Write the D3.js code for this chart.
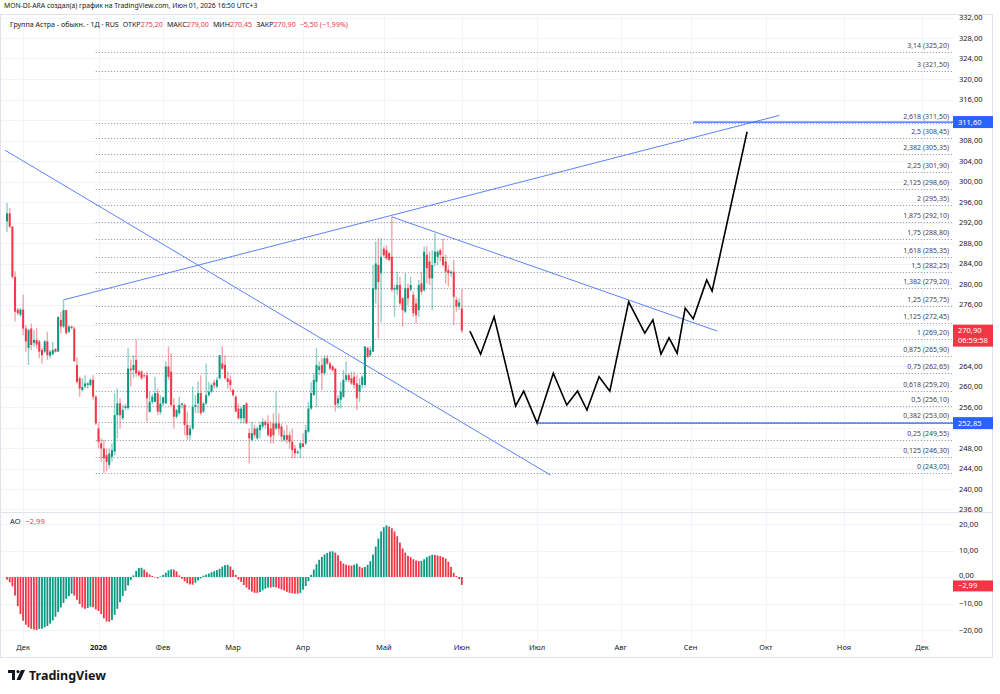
<!DOCTYPE html>
<meta charset="utf-8">
<script src="https://cdn.jsdelivr.net/npm/d3@7"></script>
<style>
  body { margin: 0; background: #fff; }
  text { font-family: "Noto Sans", sans-serif; }
</style>
<div id="chart"></div>
<script>
  // daily candles, Nov 2025 .. Jun 01 2026 (bar index 0..169)
  var opens = [292.2,293.8,291.2,281.4,275.0,274.0,275.0,271.3,267.5,271.3,268.5,269.1,268.8,267.1,266.8,268.8,266.0,266.3,267.3,266.8,
    273.0,271.7,274.9,270.7,271.7,271.3,264.2,261.6,259.3,260.0,260.3,260.3,261.3,258.0,251.8,248.9,247.9,246.6,244.7,246.3,
    247.3,254.4,256.7,253.8,255.8,255.8,263.5,263.2,265.2,262.9,262.9,262.2,262.2,255.0,257.0,257.0,258.7,255.0,256.7,256.7,
    263.9,262.9,256.4,254.1,254.8,256.4,256.4,252.5,250.5,251.8,256.0,256.7,258.7,255.1,256.7,258.3,259.0,260.8,260.0,261.6,
    264.5,264.2,261.6,261.3,259.3,258.0,255.7,253.8,253.8,256.7,250.9,249.6,251.8,249.9,251.5,252.2,253.1,252.8,251.8,252.8,
    251.8,252.8,252.2,249.6,250.5,250.5,249.2,247.9,247.0,247.9,248.9,248.9,251.2,255.7,258.3,260.9,263.2,264.2,262.6,265.5,
    264.5,263.9,263.5,256.7,257.4,258.0,261.3,262.2,261.6,261.9,260.6,259.0,260.3,260.3,267.5,266.1,266.8,278.9,283.7,282.1,
    286.9,286.6,286.0,285.3,278.9,278.9,279.8,277.2,274.6,279.2,278.9,277.9,276.2,274.9,280.1,278.8,285.7,284.4,281.1,284.1,
    285.3,286.6,285.3,284.4,282.7,282.1,282.4,276.9,275.6,275.2];
  var highs = [295.8,294.8,291.3,282.5,275.3,275.3,277.9,272.0,271.3,272.3,271.0,271.4,269.1,267.5,269.1,270.7,267.1,268.7,267.5,273.6,
    274.6,276.9,274.9,272.0,271.9,271.7,265.7,261.9,261.6,262.2,260.9,261.6,262.2,258.3,252.8,249.9,249.6,247.9,247.9,248.9,
    258.7,259.6,257.7,256.4,256.7,267.5,265.2,266.1,269.1,263.2,263.2,262.4,262.9,259.0,258.5,261.9,259.6,258.3,258.0,264.9,
    267.8,266.5,257.7,255.7,258.0,256.7,256.7,255.1,252.5,260.0,258.3,261.0,262.2,257.0,264.5,260.9,260.6,261.3,261.9,266.1,
    267.8,266.1,262.9,262.2,259.6,258.3,256.7,256.0,256.4,257.0,251.8,253.1,252.5,252.2,253.1,253.8,253.5,254.4,253.1,254.8,
    259.0,254.8,252.8,251.5,252.5,251.2,251.8,248.6,247.6,249.2,250.9,252.5,257.0,260.9,262.6,267.5,264.9,265.5,266.1,266.1,
    264.9,264.2,263.5,258.3,260.9,263.2,264.9,262.6,262.9,262.9,262.2,261.6,262.2,267.8,267.8,267.8,283.7,288.3,288.9,288.9,
    287.3,287.6,286.3,293.1,279.8,282.4,281.4,277.5,282.1,280.1,281.4,278.5,277.2,280.8,282.4,287.3,287.3,286.3,286.6,289.9,
    286.6,286.9,288.9,285.7,283.7,282.7,284.7,277.5,277.2,279.0];
  var lows = [290.2,290.9,281.0,272.7,273.9,273.6,270.0,266.8,264.2,267.1,267.8,267.4,265.5,264.5,266.5,265.2,265.5,266.1,266.6,266.8,
    270.4,271.4,270.1,270.4,271.2,264.9,260.6,258.0,259.0,259.6,259.6,260.0,257.4,252.5,247.9,245.3,243.1,243.4,244.0,245.3,
    246.6,249.9,251.8,253.5,255.4,255.4,260.0,261.6,261.9,261.9,261.3,261.7,253.1,255.0,256.6,257.0,254.5,254.5,256.2,256.7,
    261.3,256.1,251.8,253.8,254.4,255.7,250.5,249.6,249.6,251.5,254.8,254.8,254.4,254.8,256.4,258.0,258.7,259.6,259.6,261.3,
    263.2,261.3,259.6,259.0,258.0,255.1,253.5,252.8,252.8,252.8,245.0,249.2,249.9,249.6,249.9,251.8,251.8,250.2,248.9,248.9,
    251.5,250.5,249.2,249.2,248.9,247.9,246.0,246.0,246.8,246.0,248.2,248.6,250.9,255.4,258.3,256.0,262.2,259.3,262.2,264.2,
    263.2,262.9,255.1,255.7,255.7,257.7,260.9,260.9,260.3,259.6,255.4,257.0,259.6,260.0,265.5,265.8,266.8,276.2,269.4,272.6,
    285.3,284.7,284.4,278.5,273.6,277.9,275.9,271.7,274.3,275.9,278.5,273.6,272.3,273.6,277.9,278.5,280.1,279.8,274.9,283.4,
    283.7,284.4,283.4,280.1,279.5,281.4,272.0,274.6,275.0,270.45];
  var closes = [293.8,291.2,281.4,274.6,274.3,275.0,271.3,268.8,271.0,268.1,269.1,268.2,266.8,266.1,268.8,266.1,266.8,267.1,266.8,273.6,
    271.7,274.9,270.4,271.7,271.4,264.9,260.9,259.6,259.9,260.6,260.6,261.3,258.0,252.8,249.2,247.9,246.0,245.3,246.9,247.6,
    254.4,256.7,254.4,255.4,256.1,263.5,263.2,264.2,262.6,262.2,261.6,262.0,257.7,257.0,258.0,258.7,255.1,256.7,257.9,263.9,
    261.9,256.4,254.1,255.4,256.4,256.7,252.5,250.5,251.8,256.0,256.4,258.7,254.8,256.7,258.3,259.0,260.3,260.2,261.3,266.1,
    263.5,261.6,260.9,260.3,258.3,255.1,253.8,255.7,256.4,252.8,249.9,250.9,250.5,251.8,252.5,253.1,252.5,250.5,250.2,250.5,
    252.8,251.8,250.2,250.5,249.6,249.2,247.6,247.0,247.3,248.9,248.2,251.5,255.7,258.7,261.3,264.2,263.9,262.6,265.5,264.5,
    263.5,263.2,256.4,257.7,259.0,261.3,262.2,261.3,260.6,260.3,257.7,260.3,261.9,267.8,265.8,267.1,279.2,284.0,280.4,285.3,
    285.6,285.0,284.7,278.9,279.2,279.8,276.2,274.9,279.2,277.2,279.8,274.3,273.9,279.8,278.5,286.3,283.1,281.1,283.7,286.3,
    286.3,285.7,283.7,282.4,282.1,282.4,277.5,275.6,276.4,270.9];

  // Awesome Oscillator, one value per bar
  var aoValues = [-1,-2,-3.5,-7,-11,-14,-16.5,-18,-19,-19.5,-19.8,-20,-19.6,-19.5,-19,-18.5,-17.6,-16.4,-15,-13.2,
    -11.5,-9.8,-8.2,-7.2,-6.3,-7,-8.6,-10.2,-11.5,-12,-11.7,-11.2,-11.4,-12.2,-12.8,-14,-15.6,-16.8,-16.9,-16.2,
    -14.3,-12,-9.5,-7.2,-5.2,-3.2,-1.2,0.6,2.3,3.4,3.5,2.8,1.8,1,0.4,-0.2,-0.5,0.2,0.8,1.6,
    2.5,2.9,2.8,2.1,0.6,-0.7,-1.6,-2.4,-2.8,-2.9,-2.2,-1.3,-0.5,0.5,0.9,1.3,1.8,2.2,2.6,3.1,
    3.9,4.5,4.6,4,2.7,0.8,-1,-1.9,-3,-4,-4.8,-5.5,-6,-6,-5.7,-5,-4.4,-4,-4,-3.8,
    -3.9,-4.3,-4.7,-5.1,-5.6,-6,-6.2,-6.3,-6.3,-6,-4.8,-3.4,-1.6,0.8,2.8,4.8,6.5,7.6,8.5,9.1,
    9.6,9.7,9.2,8.2,6,5.1,4.6,4.4,4.3,4.6,5,3.9,3.5,3.8,4.6,6,8.5,11.5,14.5,17.2,
    18.8,19.5,19,18.4,17.2,15.4,13,10.8,9.2,8,7.5,6.7,6.2,6,6.1,6.7,7.5,8,8.4,8.3,
    8.1,7.9,7.5,7,5.8,3.8,1.6,0.4,-0.8,-2.99];

  // time axis (bar index of month start)
  var monthLabels = ["Дек", "2026", "Фев", "Мар", "Апр", "Май", "Июн", "Июл", "Авг", "Сен", "Окт", "Ноя", "Дек"];
  var monthIdx = [6, 34, 58, 84, 110, 140, 169, 197, 228, 254, 282, 311, 340];

  // fibonacci extension
  var fibLevels = ["0", "0,125", "0,25", "0,382", "0,5", "0,618", "0,75", "0,875", "1", "1,125", "1,25", "1,382",
    "1,5", "1,618", "1,75", "1,875", "2", "2,125", "2,25", "2,382", "2,5", "2,618", "3", "3,14"];
  var fibPrices = [243.05, 246.30, 249.55, 253.00, 256.10, 259.20, 262.65, 265.90, 269.20, 272.45, 275.75, 279.20,
    282.25, 285.35, 288.80, 292.10, 295.35, 298.60, 301.90, 305.35, 308.45, 311.50, 321.50, 325.20];
  var fibStartIdx = 33;

  // trend lines [index, price]
  var trendLines = [
    [[21, 276.9], [287, 312.9]],
    [[-0.7, 306.1], [202, 242.7]],
    [[143, 293.1], [264, 270.8]]
  ];
  var hLevels = [311.60, 252.85];
  var hStartIdx = [255, 197];

  // projected path
  var projIdx = [172, 176, 181, 189, 192, 197, 203, 208, 212, 215.5, 220, 224, 231, 237, 240, 243, 246, 249, 252, 255, 260, 262, 275];
  var projPrice = [270.8, 266.3, 273.6, 256.2, 259.1, 252.85, 262.6, 256.4, 259.1, 255.4, 261.9, 259.1, 276.5, 270.4, 273.0, 266.3,
    269.5, 266.5, 275.3, 273.2, 280.8, 278.6, 309.7];

  var priceTicks = d3.range(236, 333, 4);
  var aoTicks = [20, 10, 0, -10, -20];

  var width = 1000, height = 694;
  var up = "#089981", down = "#F23645", blue = "#2962FF";
  var paneRight = 953;

  var svg = d3.select("#chart").append("svg")
    .attr("width", width)
    .attr("height", height);

  var x = d3.scaleLinear().domain([0, 340]).range([7, 922]);
  var y = d3.scaleLinear().domain([328, 240]).range([38, 489]);
  var yAo = d3.scaleLinear().domain([20, -20]).range([524, 630]);

  var fmt = function (v) { return d3.format(".2f")(v).replace(".", ",").replace("-", "\u2212"); };

  svg.append("clipPath").attr("id", "mainClip").append("rect")
    .attr("x", 0).attr("y", 14).attr("width", paneRight).attr("height", 498);
  svg.append("clipPath").attr("id", "axisClip").append("rect")
    .attr("x", paneRight).attr("y", 14).attr("width", 40).attr("height", 498);

  // grid
  var grid = svg.append("g");
  grid.selectAll(".vg").data(monthIdx).enter().append("line")
    .attr("x1", function (d) { return Math.round(x(d)) + 0.5; })
    .attr("x2", function (d) { return Math.round(x(d)) + 0.5; })
    .attr("y1", 14).attr("y2", 640)
    .attr("stroke", "#f0f3fa");
  grid.append("g").attr("clip-path", "url(#mainClip)")
    .selectAll("line").data(priceTicks).enter().append("line")
    .attr("x1", 0).attr("x2", paneRight)
    .attr("y1", function (d) { return Math.round(y(d)) + 0.5; })
    .attr("y2", function (d) { return Math.round(y(d)) + 0.5; })
    .attr("stroke", "#f0f3fa");
  grid.selectAll(".ag").data(aoTicks).enter().append("line")
    .attr("x1", 0).attr("x2", paneRight)
    .attr("y1", function (d) { return Math.round(yAo(d)) + 0.5; })
    .attr("y2", function (d) { return Math.round(yAo(d)) + 0.5; })
    .attr("stroke", "#f0f3fa");

  // frame
  svg.append("rect").attr("x", 0.5).attr("y", 14.5).attr("width", 992).attr("height", 643)
    .attr("fill", "none").attr("stroke", "#e0e3eb");
  svg.append("line").attr("x1", 0).attr("x2", 993).attr("y1", 512.5).attr("y2", 512.5)
    .attr("stroke", "#e0e3eb");

  var main = svg.append("g").attr("clip-path", "url(#mainClip)");

  // fib levels
  var fib = main.append("g");
  fib.selectAll("line").data(fibPrices).enter().append("line")
    .attr("x1", x(fibStartIdx)).attr("x2", paneRight)
    .attr("y1", function (d) { return Math.round(y(d)) + 0.5; })
    .attr("y2", function (d) { return Math.round(y(d)) + 0.5; })
    .attr("stroke", "#8a8d96").attr("stroke-dasharray", "1,2");
  fib.selectAll("text").data(fibPrices).enter().append("text")
    .attr("x", 949)
    .attr("y", function (d) { return y(d) - 4; })
    .attr("text-anchor", "end")
    .attr("font-size", "7px")
    .attr("fill", "#434651")
    .text(function (d, i) { return fibLevels[i] + " (" + fmt(d) + ")"; });

  // candles
  var candles = main.append("g");
  var idx = d3.range(closes.length);
  candles.selectAll(".wick").data(idx).enter().append("line")
    .attr("x1", function (i) { return x(i); })
    .attr("x2", function (i) { return x(i); })
    .attr("y1", function (i) { return y(highs[i]); })
    .attr("y2", function (i) { return y(lows[i]); })
    .attr("stroke", function (i) { return closes[i] >= opens[i] ? up : down; })
    .attr("stroke-opacity", 0.45)
    .attr("stroke-width", 1.4);
  candles.selectAll(".body").data(idx).enter().append("rect")
    .attr("x", function (i) { return x(i) - 1; })
    .attr("width", 2)
    .attr("y", function (i) { return y(Math.max(opens[i], closes[i])); })
    .attr("height", function (i) { return Math.max(1, Math.abs(y(opens[i]) - y(closes[i]))); })
    .attr("fill", function (i) { return closes[i] >= opens[i] ? up : down; });

  // trend lines
  main.selectAll(".trend").data(trendLines).enter().append("line")
    .attr("x1", function (d) { return x(d[0][0]); })
    .attr("y1", function (d) { return y(d[0][1]); })
    .attr("x2", function (d) { return x(d[1][0]); })
    .attr("y2", function (d) { return y(d[1][1]); })
    .attr("stroke", "#5b84f5").attr("stroke-width", 1);

  // projection
  main.append("path")
    .datum(d3.zip(projIdx, projPrice))
    .attr("fill", "none").attr("stroke", "#000").attr("stroke-width", 1.6)
    .attr("stroke-linejoin", "miter")
    .attr("d", d3.line().x(function (d) { return x(d[0]); }).y(function (d) { return y(d[1]); }));

  // horizontal levels, on top of the projection
  main.selectAll(".hl").data(hLevels).enter().append("line")
    .attr("x1", function (d, i) { return x(hStartIdx[i]); })
    .attr("x2", paneRight)
    .attr("y1", function (d) { return y(d); })
    .attr("y2", function (d) { return y(d); })
    .attr("stroke", blue).attr("stroke-width", 1.2);

  // price axis (ticks hidden under the price tags)
  var last = closes[closes.length - 1];
  var tags = [[hLevels[0], 1], [hLevels[1], 1], [last, 2]];
  function covered(v) {
    return tags.some(function (t) {
      var top = y(t[0]) - 6, bot = top + t[1] * 10 + 2;
      return y(v) + 3 > top && y(v) - 3 < bot;
    });
  }
  var axisG = svg.append("g").attr("clip-path", "url(#axisClip)");
  axisG.selectAll("text").data(priceTicks.filter(function (v) { return !covered(v); })).enter().append("text")
    .attr("x", 959).attr("y", function (d) { return y(d) + 2.5; })
    .attr("font-size", "7.5px").attr("fill", "#131722")
    .text(fmt);

  function priceTag(v, col, lines) {
    var h = lines.length * 10 + 2;
    var g = svg.append("g");
    g.append("rect").attr("x", paneRight).attr("y", y(v) - 6).attr("width", 40).attr("height", h).attr("fill", col);
    lines.forEach(function (t, k) {
      g.append("text").attr("x", 958).attr("y", y(v) + 2.5 + k * 10)
        .attr("font-size", "7.5px").attr("fill", "#fff").text(t);
    });
  }
  priceTag(hLevels[0], blue, [fmt(hLevels[0])]);
  priceTag(hLevels[1], blue, [fmt(hLevels[1])]);
  priceTag(last, down, [fmt(last), "06:59:58"]);

  // AO pane
  var ao = svg.append("g");
  ao.selectAll("rect").data(aoValues).enter().append("rect")
    .attr("x", function (d, i) { return x(i) - 0.9; })
    .attr("width", 1.8)
    .attr("y", function (d) { return Math.min(yAo(d), yAo(0)); })
    .attr("height", function (d) { return Math.abs(yAo(d) - yAo(0)); })
    .attr("fill", function (d, i) { return i > 0 && d > aoValues[i - 1] ? up : down; });
  var lastAo = aoValues[aoValues.length - 1];
  ao.selectAll("text").data(aoTicks).enter().append("text")
    .attr("x", 959).attr("y", function (d) { return yAo(d) + (d === 0 ? 1 : 2.5); })
    .attr("font-size", "7.5px").attr("fill", "#131722")
    .text(fmt);
  ao.append("rect").attr("x", paneRight).attr("y", yAo(lastAo) - 4.5).attr("width", 40).attr("height", 11).attr("fill", down);
  ao.append("text").attr("x", 958).attr("y", yAo(lastAo) + 3.5)
    .attr("font-size", "7.5px").attr("fill", "#fff").text(fmt(lastAo));
  var aoLegend = svg.append("text").attr("x", 10).attr("y", 524).attr("font-size", "7.5px");
  aoLegend.append("tspan").attr("fill", "#131722").text("AO");
  aoLegend.append("tspan").attr("dx", 5).attr("fill", down).text(fmt(lastAo));

  // time axis
  svg.append("g").selectAll("text").data(monthLabels).enter().append("text")
    .attr("x", function (d, i) { return x(monthIdx[i]); })
    .attr("y", 650)
    .attr("text-anchor", "middle")
    .attr("font-size", "7.5px")
    .attr("font-weight", function (d) { return d === "2026" ? "bold" : "normal"; })
    .attr("fill", "#131722")
    .text(function (d) { return d; });

  // header & legend
  svg.append("text").attr("x", 4).attr("y", 8).attr("font-size", "6.8px").attr("fill", "#131722")
    .text("MON-DI-ARA создал(а) график на TradingView.com, Июн 01, 2026 16:50 UTC+3");
  var leg = svg.append("text").attr("x", 10).attr("y", 27).attr("font-size", "7.1px").attr("fill", "#131722");
  leg.append("tspan").text("Группа Астра - обыкн. · 1Д · RUS");
  var n = closes.length - 1;
  [["ОТКР", opens[n]], ["МАКС", highs[n]], ["МИН", lows[n]], ["ЗАКР", closes[n]]].forEach(function (p) {
    leg.append("tspan").attr("dx", 4).text(p[0]);
    leg.append("tspan").attr("fill", down).text(fmt(p[1]));
  });
  var chg = closes[n] - closes[n - 1];
  leg.append("tspan").attr("dx", 4).attr("fill", down)
    .text(fmt(chg) + " (" + fmt(chg / closes[n - 1] * 100) + "%)");

  // footer logo
  var logo = svg.append("g").attr("transform", "translate(8,670)");
  logo.append("path").attr("d", "M0,0 H7 V10 H4 V3 H0 Z").attr("fill", "#131722");
  logo.append("circle").attr("cx", 10).attr("cy", 1.6).attr("r", 1.6).attr("fill", "#131722");
  logo.append("path").attr("d", "M13,0 H17 L12.5,10 H8.5 Z").attr("fill", "#131722");
  svg.append("text").attr("x", 29).attr("y", 680).attr("font-size", "12.5px").attr("font-weight", "bold")
    .attr("fill", "#131722").text("TradingView");
</script>
